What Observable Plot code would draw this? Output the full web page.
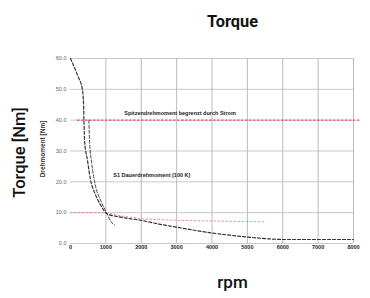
<!DOCTYPE html>
<html><head><meta charset="utf-8">
<script src="https://cdn.jsdelivr.net/npm/d3@7"></script>
<script src="https://cdn.jsdelivr.net/npm/@observablehq/plot@0.6"></script>
<style>body{margin:0;background:#fff} svg{display:block}</style>
</head><body><div id="chart"></div>
<script>
// axis ticks
const rpmTicks = [0, 1000, 2000, 3000, 4000, 5000, 6000, 7000, 8000];
const torqueTicks = [0, 10, 20, 30, 40, 50, 60];

// peak torque curve (dashed black)
const peakRpm = [0, 200, 340, 370, 380, 400, 480, 560, 700, 850, 1050, 1300, 1600, 2000, 2500, 3000, 3500, 4000, 4500, 5000, 5500, 6000, 7000, 8000];
const peakNm  = [60, 54.5, 49.7, 44.8, 40, 33, 27, 21, 16, 12.5, 9.5, 8.8, 8.2, 7.5, 6.3, 5.3, 4.3, 3.4, 2.7, 2.1, 1.6, 1.3, 1.3, 1.3];

// second curve (dashed black, steep part)
const secRpm = [520, 540, 600, 700, 850, 1000, 1150, 1250];
const secNm  = [40, 33, 26, 19, 14, 10.5, 7, 6];

// continuous torque curve (pink dotted)
const contRpm = [0, 1000, 1400, 2000, 3000, 4000, 5500];
const contNm  = [10, 10, 9, 8, 7.5, 7.3, 7];

// torque limit line (red dotted)
const limitRpm = [200, 8200];
const limitNm  = [40, 40];

// annotations
const noteText = ["Spitzendrehmoment begrenzt durch Strom", "S1 Dauerdrehmoment (100 K)"];
const noteRpm  = [1520, 1210];
const noteNm   = [42.3, 22];

const zip = (xs, ys) => xs.map((x, i) => ({x, y: ys[i]}));
const peak = zip(peakRpm, peakNm);
const sec = zip(secRpm, secNm);
const cont = zip(contRpm, contNm);
const limit = zip(limitRpm, limitNm);
const notes = noteText.map((t, i) => ({t, x: noteRpm[i], y: noteNm[i]}));

const bigFont = "Roboto, 'Liberation Sans', sans-serif";

const chart = Plot.plot({
  width: 370, height: 298,
  marginLeft: 70, marginRight: 17, marginTop: 58, marginBottom: 55,
  style: {background: "#fff", fontFamily: "'Liberation Sans', sans-serif"},
  x: {domain: [0, 8000]},
  y: {domain: [0, 60]},
  marks: [
    Plot.gridX(rpmTicks.slice(1), {stroke: "#aaa", strokeOpacity: 1, strokeWidth: 0.8}),
    Plot.gridY(torqueTicks, {stroke: "#bbb", strokeOpacity: 1, strokeWidth: 0.8}),
    Plot.axisX(rpmTicks, {tickSize: 0, tickPadding: 2, fontSize: 5.5, fontWeight: "bold", fill: "#222", label: null, tickFormat: d => String(d)}),
    Plot.axisY(torqueTicks, {tickSize: 0, tickPadding: 4, fontSize: 5.5, fill: "#666", label: null, tickFormat: d => d.toFixed(1)}),
    Plot.line(cont, {x: "x", y: "y", stroke: "#e8889a", strokeWidth: 1, strokeDasharray: "1.5,2.5"}),
    Plot.line(limit, {x: "x", y: "y", stroke: "#e0506a", strokeWidth: 1.2, strokeDasharray: "1.5,2.5"}),
    Plot.line(peak, {x: "x", y: "y", stroke: "#333", strokeWidth: 1.2, strokeDasharray: "3,2", curve: "monotone-x"}),
    Plot.line(sec, {x: "x", y: "y", stroke: "#444", strokeWidth: 1, strokeDasharray: "3,2", curve: "monotone-x"}),
    Plot.text(notes, {x: "x", y: "y", text: "t", textAnchor: "start", fontSize: 5.5, fontWeight: "bold", fill: "#222"}),
    Plot.text(["Drehmoment [Nm]"], {frameAnchor: "left", textAnchor: "middle", dx: -28, dy: -2, rotate: -90, fontSize: 6.5, fontWeight: "bold", fill: "#333"}),
    Plot.text(["Torque"], {frameAnchor: "top", dx: 20.5, dy: -44, fontSize: 17, fontWeight: "bold", fill: "#111", fontFamily: bigFont}),
    Plot.text(["rpm"], {frameAnchor: "bottom", dx: 20.5, dy: 44, fontSize: 17, fontWeight: 500, fill: "#111", fontFamily: bigFont}),
    Plot.text(["Torque [Nm]"], {frameAnchor: "left", textAnchor: "middle", dx: -51, dy: 1.5, rotate: -90, fontSize: 16.5, fontWeight: 500, fill: "#111", fontFamily: bigFont})
  ]
});
d3.select(chart).selectAll("text")
  .filter(function () { return this.textContent === "Torque"; })
  .attr("textLength", 51).attr("lengthAdjust", "spacingAndGlyphs");
document.getElementById("chart").append(chart);
</script>
</body></html>
